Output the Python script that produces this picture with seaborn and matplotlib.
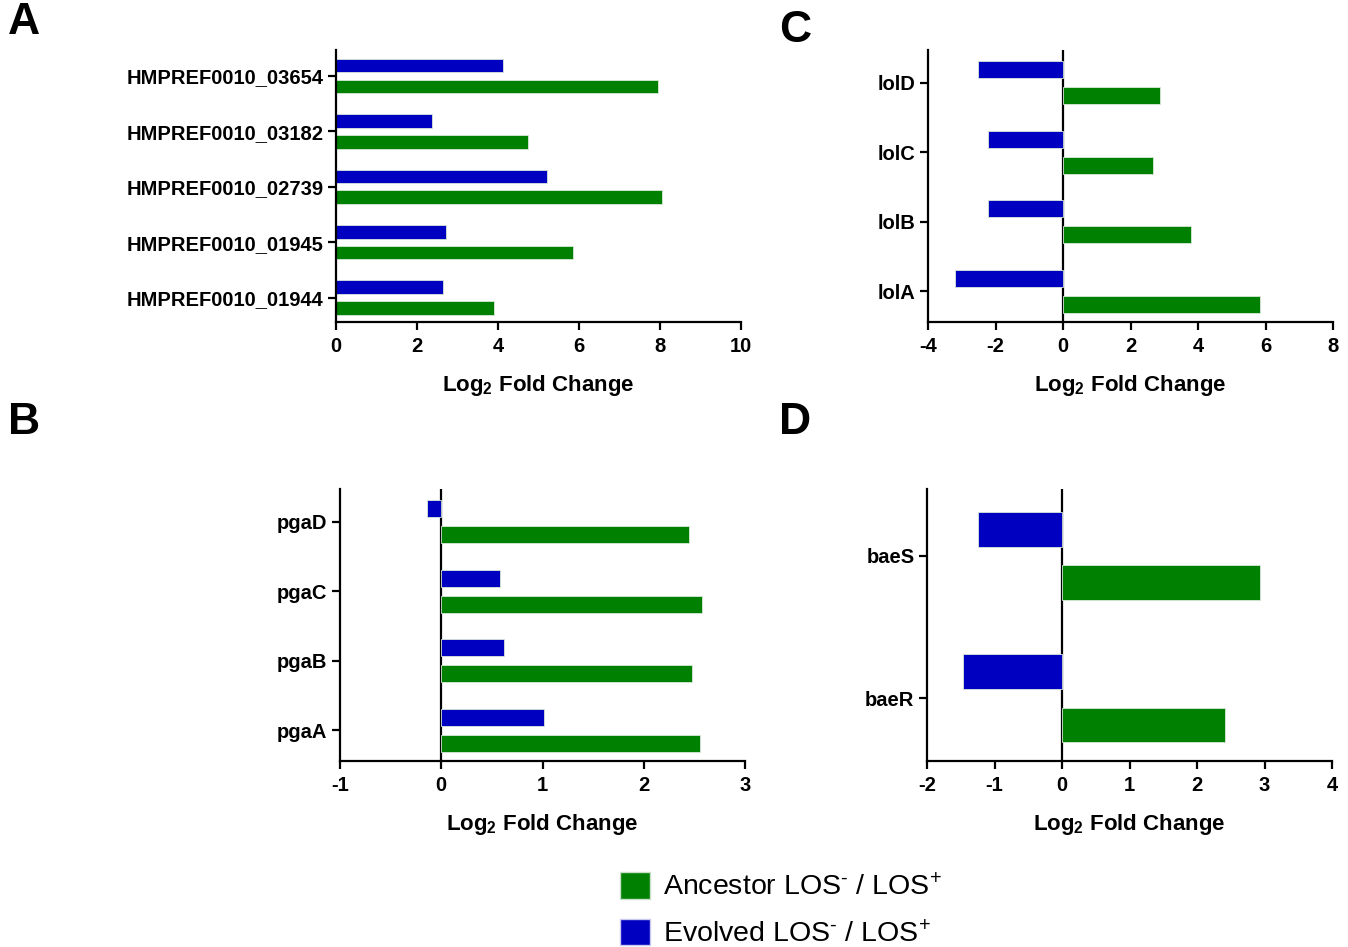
import pandas as pd
import seaborn as sns
import matplotlib.pyplot as plt
from matplotlib.patches import Patch

# values (log2 fold change)
genes_a = ['HMPREF0010_03654', 'HMPREF0010_03182', 'HMPREF0010_02739',
           'HMPREF0010_01945', 'HMPREF0010_01944']
ancestor_a = [7.95, 4.75, 8.05, 5.85, 3.90]
evolved_a = [4.12, 2.36, 5.20, 2.72, 2.63]

genes_b = ['pgaD', 'pgaC', 'pgaB', 'pgaA']
ancestor_b = [2.45, 2.58, 2.48, 2.56]
evolved_b = [-0.14, 0.58, 0.62, 1.01]

genes_c = ['lolD', 'lolC', 'lolB', 'lolA']
ancestor_c = [2.88, 2.67, 3.79, 5.84]
evolved_c = [-2.52, -2.22, -2.22, -3.21]

genes_d = ['baeS', 'baeR']
ancestor_d = [2.94, 2.42]
evolved_d = [-1.24, -1.46]

anc_label = 'Ancestor LOS$^{\u2010}$ / LOS$^{+}$'
evo_label = 'Evolved LOS$^{\u2010}$ / LOS$^{+}$'
green = '#008000'
blue = '#0000C0'

sns.set_style('ticks')
plt.rcParams['font.family'] = ['Liberation Sans', 'DejaVu Sans']
plt.rcParams['mathtext.default'] = 'regular'
plt.rcParams['axes.unicode_minus'] = False
plt.rcParams['axes.linewidth'] = 1.6
for key in ['text.color', 'axes.labelcolor', 'axes.edgecolor',
            'xtick.color', 'ytick.color']:
    plt.rcParams[key] = 'black'


def make_df(genes, anc, evo):
    return pd.DataFrame({
        'gene': genes * 2,
        'group': ['Evolved'] * len(genes) + ['Ancestor'] * len(genes),
        'value': evo + anc,
    })


def draw(ax, df, xlim, xticks, zero_line):
    sns.barplot(data=df, x='value', y='gene', hue='group',
                hue_order=['Evolved', 'Ancestor'],
                palette={'Evolved': blue, 'Ancestor': green}, saturation=1,
                width=0.75, gap=0.35, orient='h', legend=False, ax=ax,
                edgecolor='#d8e8d8', linewidth=0.6)
    n = df['gene'].nunique()
    ax.set_ylim(n - 1 + 0.44, -0.47)
    ax.set_xlim(*xlim)
    ax.set_xticks(xticks)
    if zero_line:
        ax.axvline(0, color='black', lw=1.6, zorder=0)
    sns.despine(ax=ax)
    ax.set_ylabel('')
    ax.set_xlabel('Log$_2$ Fold Change', fontsize=16, fontweight='bold',
                  labelpad=12)
    ax.tick_params(axis='both', width=1.6, length=6, labelsize=14.5, pad=3)
    ax.tick_params(axis='x', pad=5)
    for lab in ax.get_xticklabels() + ax.get_yticklabels():
        lab.set_fontweight('bold')


fig = plt.figure(figsize=(13.48, 9.47), dpi=100)
W, H = 1348, 947
aw, ah = 405 / W, 272 / H
ax_a = fig.add_axes([336 / W, 1 - 322 / H, aw, ah])
ax_b = fig.add_axes([340 / W, 1 - 761 / H, aw, ah])
ax_c = fig.add_axes([928 / W, 1 - 322 / H, aw, ah])
ax_d = fig.add_axes([927 / W, 1 - 761 / H, aw, ah])

draw(ax_a, make_df(genes_a, ancestor_a, evolved_a), (0, 10), range(0, 11, 2), False)
draw(ax_b, make_df(genes_b, ancestor_b, evolved_b), (-1, 3), range(-1, 4), True)
draw(ax_c, make_df(genes_c, ancestor_c, evolved_c), (-4, 8), range(-4, 9, 2), True)
draw(ax_d, make_df(genes_d, ancestor_d, evolved_d), (-2, 4), range(-2, 5), True)

# panel letters
for letter, x, y in [('A', 24, 22), ('B', 24, 422), ('C', 795, 30), ('D', 795, 422)]:
    fig.text(x / W, 1 - y / H, letter, fontsize=32, fontweight='bold',
             ha='center', va='center')

handles = [Patch(facecolor=green, edgecolor='#c8e0c8'),
           Patch(facecolor=blue, edgecolor='#c8c8f0')]
fig.legend(handles, [anc_label, evo_label], loc='upper left',
           bbox_to_anchor=(609 / W, 1 - 861 / H), frameon=False,
           fontsize=20.5, handlelength=1.05, handleheight=1.05,
           handletextpad=0.45, labelspacing=0.62, borderaxespad=0)

fig.savefig('out.png', dpi=100)
